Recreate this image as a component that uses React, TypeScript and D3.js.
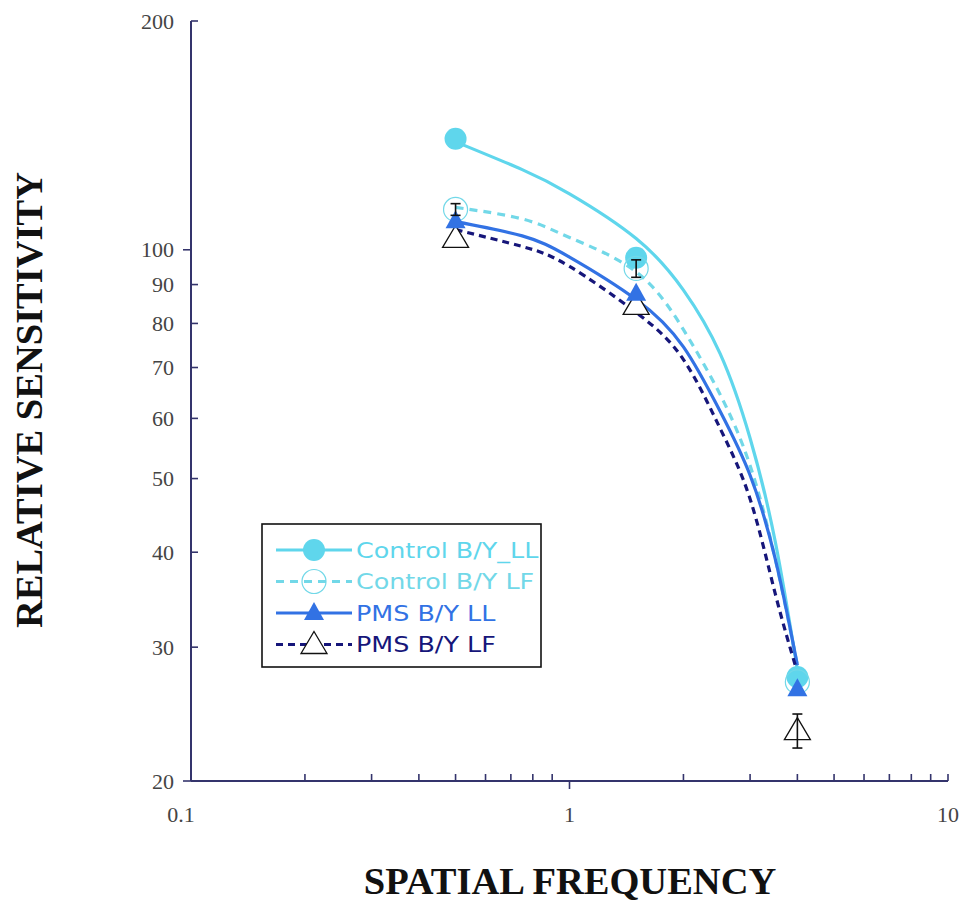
import React from 'react';
import * as d3 from 'd3';

// measured points
const freq = [0.5, 1.5, 4];
const controlLL = [140, 97.6, 27.4];
const controlLF = [113, 94.5, 27];
const pmsLL = [109, 87.5, 26.4];
const pmsLF = [103.5, 84.5, 23.3];
const controlLFErr = [2, 2.5, 0];
const pmsLFErr = [0, 0, 1.2];

// fitted curves
const fitFreq = [0.5, 0.75, 1, 1.5, 2, 2.5, 3, 3.5, 4];
const controlLLFit = [138.7, 127.5, 118.5, 103.5, 88.5, 73.0, 56.5, 41.2, 28.0];
const controlLFFit = [113.7, 109.8, 103.8, 93.5, 78.5, 64.5, 52.0, 39.1, 28.4];
const pmsLLFit = [108.9, 104.3, 97.8, 86.0, 74.5, 61.3, 50.5, 39.1, 28.4];
const pmsLFFit = [106.3, 101.0, 95.1, 82.7, 71.7, 58.2, 47.0, 35.2, 27.8];

const yTickLabels = [20, 30, 40, 50, 60, 70, 80, 90, 100, 200];
const yOutsideTicks = [20, 100];
const xTickLabels = [0.1, 1, 10];

const legendNames = ['Control B/Y_LL', 'Control B/Y LF', 'PMS B/Y LL', 'PMS B/Y LF'];

const x = d3.scaleLog().domain([0.1, 10]).range([191, 948]);
const y = d3.scaleLog().domain([20, 200]).range([781, 21]);

const AXIS = '#34346c';
const serif = '"Liberation Serif", "Times New Roman", serif';

const series = [
  { name: legendNames[0], vals: controlLL, fit: controlLLFit, color: '#5fd6ec', dash: null, marker: 'circleFill' },
  { name: legendNames[1], vals: controlLF, fit: controlLFFit, color: '#72d8e8', dash: '8,6', marker: 'circleOpen' },
  { name: legendNames[2], vals: pmsLL, fit: pmsLLFit, color: '#3272e4', dash: null, marker: 'triFill' },
  { name: legendNames[3], vals: pmsLF, fit: pmsLFFit, color: '#16167a', dash: '7,5', marker: 'triOpen' },
];

function Marker({ kind, cx, cy, color }) {
  if (kind === 'circleFill') return <circle cx={cx} cy={cy} r={11} fill={color} />;
  if (kind === 'circleOpen') return <circle cx={cx} cy={cy} r={12} fill="none" stroke={color} strokeWidth={1.2} />;
  if (kind === 'triFill') {
    return <path d={`M${cx},${cy - 11}L${cx + 10},${cy + 7}L${cx - 10},${cy + 7}Z`} fill={color} />;
  }
  return <path d={`M${cx},${cy - 13}L${cx + 13},${cy + 9}L${cx - 13},${cy + 9}Z`} fill="#fff" stroke="#111" strokeWidth={1.3} />;
}

function ErrBar({ f, v, e }) {
  if (!e) return null;
  const cx = x(f);
  const y0 = y(v + e), y1 = y(v - e);
  return (
    <g stroke="#111" strokeWidth={1.6}>
      <line x1={cx} x2={cx} y1={y0} y2={y1} />
      <line x1={cx - 5} x2={cx + 5} y1={y0} y2={y0} />
      <line x1={cx - 5} x2={cx + 5} y1={y1} y2={y1} />
    </g>
  );
}

export default function App() {
  const line = d3.line<number>()
    .x((d, i) => x(fitFreq[i]))
    .y(d => y(d))
    .curve(d3.curveNatural);

  const order = [0, 1, 3, 2];

  return (
    <svg width={964} height={911} style={{ position: 'absolute', left: 0, top: 0, background: '#fff' }}>
      {/* axes */}
      <g stroke={AXIS} strokeWidth={2} fill="none">
        <line x1={191} x2={191} y1={y(200)} y2={y(20)} />
        <line x1={x(0.1)} x2={x(10)} y1={781} y2={781} />
        {yTickLabels.map(t => {
          const out = yOutsideTicks.includes(t);
          return <line key={t} x1={out ? 183 : 191} x2={out ? 191 : 198} y1={y(t)} y2={y(t)} strokeWidth={1.6} />;
        })}
        {x.ticks().filter(t => t !== 0.1).map(t => {
          const out = t === 1;
          return <line key={t} x1={x(t)} x2={x(t)} y1={781} y2={out ? 789 : 774} strokeWidth={1.6} />;
        })}
      </g>
      <g fontFamily={serif} fontSize={22} fill="#444">
        {yTickLabels.map(t => (
          <text key={t} x={174} y={y(t)} textAnchor="end" dominantBaseline="central">{t}</text>
        ))}
        {xTickLabels.map(t => (
          <text key={t} x={t === 0.1 ? x(t) - 10 : x(t)} y={822} textAnchor="middle">{String(t)}</text>
        ))}
      </g>

      {/* curves */}
      {series.map(s => (
        <path key={s.name} d={line(s.fit)} fill="none" stroke={s.color} strokeWidth={3.2}
          strokeDasharray={s.dash || undefined} />
      ))}

      {/* markers */}
      {order.map(k => {
        const s = series[k];
        return (
          <g key={s.name}>
            {s.vals.map((v, i) => (
              <Marker key={i} kind={s.marker} cx={x(freq[i])} cy={y(v)} color={s.color} />
            ))}
          </g>
        );
      })}
      {freq.map((f, i) => <ErrBar key={'c' + i} f={f} v={controlLF[i]} e={controlLFErr[i]} />)}
      {freq.map((f, i) => <ErrBar key={'p' + i} f={f} v={pmsLF[i]} e={pmsLFErr[i]} />)}

      {/* legend */}
      <rect x={262} y={524} width={279} height={143} fill="#fff" stroke="#111" strokeWidth={1.6} />
      {series.map((s, i) => {
        const cy = 550 + i * 31.5;
        return (
          <g key={s.name}>
            <line x1={276} x2={352} y1={cy} y2={cy} stroke={s.color} strokeWidth={3.2}
              strokeDasharray={s.dash || undefined} />
            <Marker kind={s.marker} cx={314} cy={cy} color={s.color} />
            <text transform={`translate(356,${cy + 7.5}) scale(1.21,1)`} fontFamily='"DejaVu Sans", sans-serif'
              fontSize={21} fill={s.color}>{s.name}</text>
          </g>
        );
      })}

      {/* axis titles */}
      <text x={570} y={894} textAnchor="middle" fontFamily={serif} fontWeight="bold" fontSize={38.5} fill="#111">
        SPATIAL FREQUENCY
      </text>
      <text transform="translate(42,400) rotate(-90)" textAnchor="middle" fontFamily={serif} fontWeight="bold"
        fontSize={38.5} fill="#111">
        RELATIVE SENSITIVITY
      </text>
    </svg>
  );
}
